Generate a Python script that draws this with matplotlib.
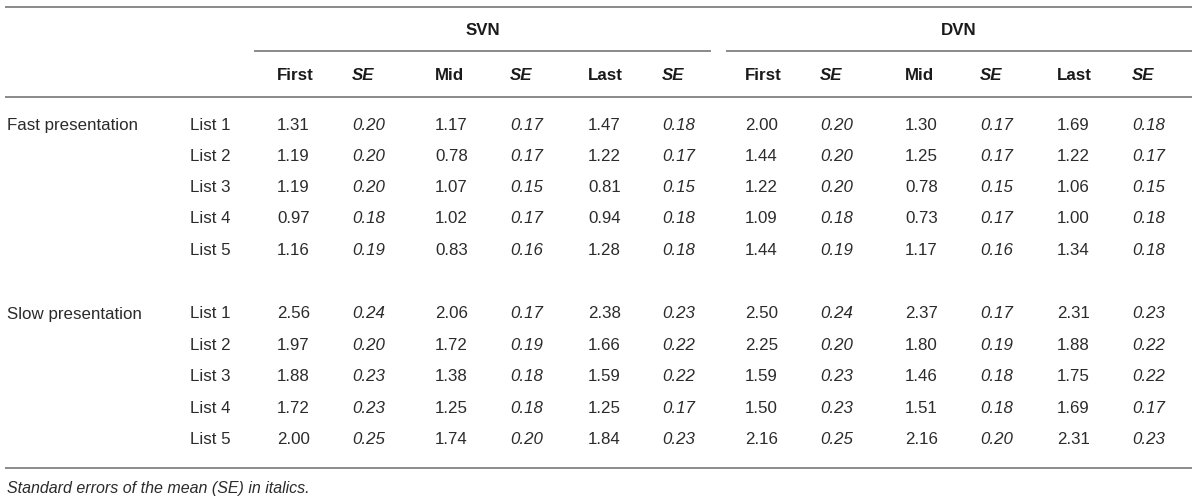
import matplotlib
matplotlib.use("Agg")
import matplotlib.pyplot as plt

plt.rcParams['font.family'] = ['Liberation Sans', 'DejaVu Sans']

# ---- data ----
groups = ["SVN", "DVN"]
col_headers = ["First", "SE", "Mid", "SE", "Last", "SE"]
conditions = ["Fast presentation", "Slow presentation"]
lists = ["List 1", "List 2", "List 3", "List 4", "List 5"]

fast_svn = [
    ["1.31", "0.20", "1.17", "0.17", "1.47", "0.18"],
    ["1.19", "0.20", "0.78", "0.17", "1.22", "0.17"],
    ["1.19", "0.20", "1.07", "0.15", "0.81", "0.15"],
    ["0.97", "0.18", "1.02", "0.17", "0.94", "0.18"],
    ["1.16", "0.19", "0.83", "0.16", "1.28", "0.18"],
]
fast_dvn = [
    ["2.00", "0.20", "1.30", "0.17", "1.69", "0.18"],
    ["1.44", "0.20", "1.25", "0.17", "1.22", "0.17"],
    ["1.22", "0.20", "0.78", "0.15", "1.06", "0.15"],
    ["1.09", "0.18", "0.73", "0.17", "1.00", "0.18"],
    ["1.44", "0.19", "1.17", "0.16", "1.34", "0.18"],
]
slow_svn = [
    ["2.56", "0.24", "2.06", "0.17", "2.38", "0.23"],
    ["1.97", "0.20", "1.72", "0.19", "1.66", "0.22"],
    ["1.88", "0.23", "1.38", "0.18", "1.59", "0.22"],
    ["1.72", "0.23", "1.25", "0.18", "1.25", "0.17"],
    ["2.00", "0.25", "1.74", "0.20", "1.84", "0.23"],
]
slow_dvn = [
    ["2.50", "0.24", "2.37", "0.17", "2.31", "0.23"],
    ["2.25", "0.20", "1.80", "0.19", "1.88", "0.22"],
    ["1.59", "0.23", "1.46", "0.18", "1.75", "0.22"],
    ["1.50", "0.23", "1.51", "0.18", "1.69", "0.17"],
    ["2.16", "0.25", "2.16", "0.20", "2.31", "0.23"],
]
footnote = "Standard errors of the mean (SE) in italics."

# ---- layout ----
W, H = 1200, 501
fig = plt.figure(figsize=(W / 100, H / 100), dpi=100)
ax = fig.add_axes([0, 0, 1, 1])
ax.set_xlim(0, W)
ax.set_ylim(H, 0)
ax.axis('off')

txt = '#2b2b2b'
rule = '#8a8a8a'
fs = 12.2

col_x = [277, 352, 435, 510, 588, 662, 745, 820, 905, 980, 1057, 1132]
group_span = [(254, 711), (726, 1192)]
cond_x, list_x = 7, 190
block_y = [[125 + 31.3 * i for i in range(5)], [314 + 31.4 * i for i in range(5)]]

# rules
for yy in (6.5, 97, 467.5):
    ax.plot([5, 1192], [yy, yy], color=rule, lw=1.4, solid_capstyle='butt')
for (a, b), g in zip(group_span, groups):
    ax.plot([a, b], [51, 51], color=rule, lw=1.4, solid_capstyle='butt')
    ax.text((a + b) / 2, 30, g, ha='center', va='center', fontsize=fs,
            fontweight='bold', color='#1a1a1a')

# column headers
for k, x in enumerate(col_x):
    h = col_headers[k % 6]
    italic = h == "SE"
    ax.text(x, 75, h, ha='left', va='center', fontsize=fs, fontweight='bold',
            style='italic' if italic else 'normal', color='#1a1a1a')

# body
blocks = [(fast_svn, fast_dvn), (slow_svn, slow_dvn)]
for b, (cond, (svn, dvn)) in enumerate(zip(conditions, blocks)):
    ys = block_y[b]
    ax.text(cond_x, ys[0], cond, ha='left', va='center', fontsize=fs, color=txt)
    for r, y in enumerate(ys):
        ax.text(list_x, y, lists[r], ha='left', va='center', fontsize=fs, color=txt)
        row = svn[r] + dvn[r]
        for k, (x, v) in enumerate(zip(col_x, row)):
            ax.text(x, y, v, ha='left', va='center', fontsize=fs, color=txt,
                    style='italic' if k % 2 == 1 else 'normal')

ax.text(7, 488, footnote, ha='left', va='center', fontsize=11.5, style='italic',
        color=txt)

fig.savefig("out.png", dpi=100)
